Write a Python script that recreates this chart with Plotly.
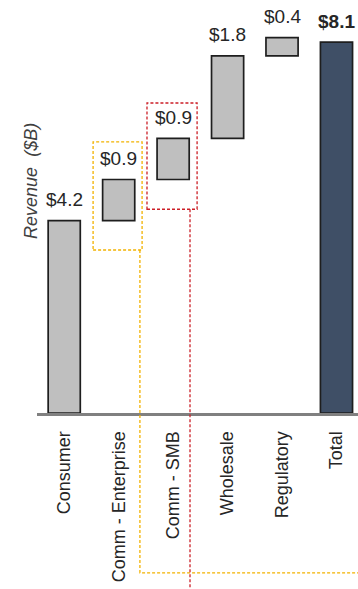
import plotly.graph_objects as go

# Revenue bridge by segment ($B)
categories = ["Consumer", "Comm - Enterprise", "Comm - SMB", "Wholesale", "Regulatory", "Total"]
values = [4.2, 0.9, 0.9, 1.8, 0.4, 8.1]
is_total = [False, False, False, False, False, True]

# floating bases: each step starts where the previous one ended
bases = []
running = 0.0
for v, t in zip(values, is_total):
    if t:
        bases.append(0.0)
    else:
        bases.append(running)
        running += v
tops = [b + v for b, v in zip(bases, values)]

GRAY = "#BFBFBF"
NAVY = "#3F4F66"
EDGE = "#1E1E1E"
GOLD = "#F2B200"
RED = "#CC1F27"
FONT = "Liberation Sans, Arial, sans-serif"

Y_MAX = 9.02
X_RANGE = [-0.5, 5.395]

fig = go.Figure()
fig.add_trace(go.Bar(
    x=categories,
    y=values,
    base=bases,
    width=0.59,
    marker=dict(
        color=[NAVY if t else GRAY for t in is_total],
        line=dict(color=EDGE, width=1.7),
    ),
    hoverinfo="skip",
))

# value labels above each bar
for cat, top, v, t in zip(categories, tops, values, is_total):
    txt = f"${v:.1f}"
    fig.add_annotation(
        x=cat, y=top, xref="x", yref="y",
        text=f"<b>{txt}</b>" if t else txt,
        showarrow=False, yanchor="middle", yshift=21,
        font=dict(family=FONT, size=19, color="#262626"),
    )

def to_paper(v):
    return v / Y_MAX

dash = "3px,2px"

# highlight box around Comm - Enterprise, with its leader line
i_ent = categories.index("Comm - Enterprise")
ent_box = dict(x0=i_ent - 0.47, x1=i_ent + 0.43, y0=bases[i_ent] - 0.64, y1=tops[i_ent] + 0.82)
fig.add_shape(type="rect", xref="x", yref="y", **ent_box,
              line=dict(color=GOLD, width=1.3, dash=dash), fillcolor="rgba(0,0,0,0)")
ent_lead_x = i_ent + 0.39
fig.add_shape(type="path", xref="x", yref="paper",
              path=(f"M {ent_lead_x} {to_paper(ent_box['y0'])} "
                    f"L {ent_lead_x} -0.387 L {X_RANGE[1]} -0.387"),
              line=dict(color=GOLD, width=1.3, dash=dash))

# highlight box around Comm - SMB, with its leader line
i_smb = categories.index("Comm - SMB")
smb_box = dict(x0=i_smb - 0.48, x1=i_smb + 0.44, y0=bases[i_smb] - 0.65, y1=tops[i_smb] + 0.77)
fig.add_shape(type="rect", xref="x", yref="y", **smb_box,
              line=dict(color=RED, width=1.3, dash=dash), fillcolor="rgba(0,0,0,0)")
smb_lead_x = i_smb + 0.31
fig.add_shape(type="line", xref="x", yref="paper",
              x0=smb_lead_x, x1=smb_lead_x, y0=to_paper(smb_box["y0"]), y1=-0.45,
              line=dict(color=RED, width=1.3, dash=dash))

# y-axis title
fig.add_annotation(
    text="<i>Revenue  ($B)</i>", xref="paper", yref="paper",
    x=-0.056, y=0.562, textangle=-90, showarrow=False,
    font=dict(family=FONT, size=18, color="#404040"),
)

fig.update_layout(
    width=358, height=589,
    margin=dict(l=37, r=0, t=0, b=176),
    paper_bgcolor="white", plot_bgcolor="white",
    showlegend=False,
    bargap=0.4,
    xaxis=dict(
        type="category", range=X_RANGE,
        tickangle=-90,
        tickfont=dict(family=FONT, size=18, color="#262626"),
        showline=True, linecolor="#808080", linewidth=3,
        ticks="", ticklabelstandoff=8,
        showgrid=False, zeroline=False,
    ),
    yaxis=dict(
        range=[0, Y_MAX], visible=False,
        showgrid=False, zeroline=False,
    ),
)

fig.write_html("out.html")
